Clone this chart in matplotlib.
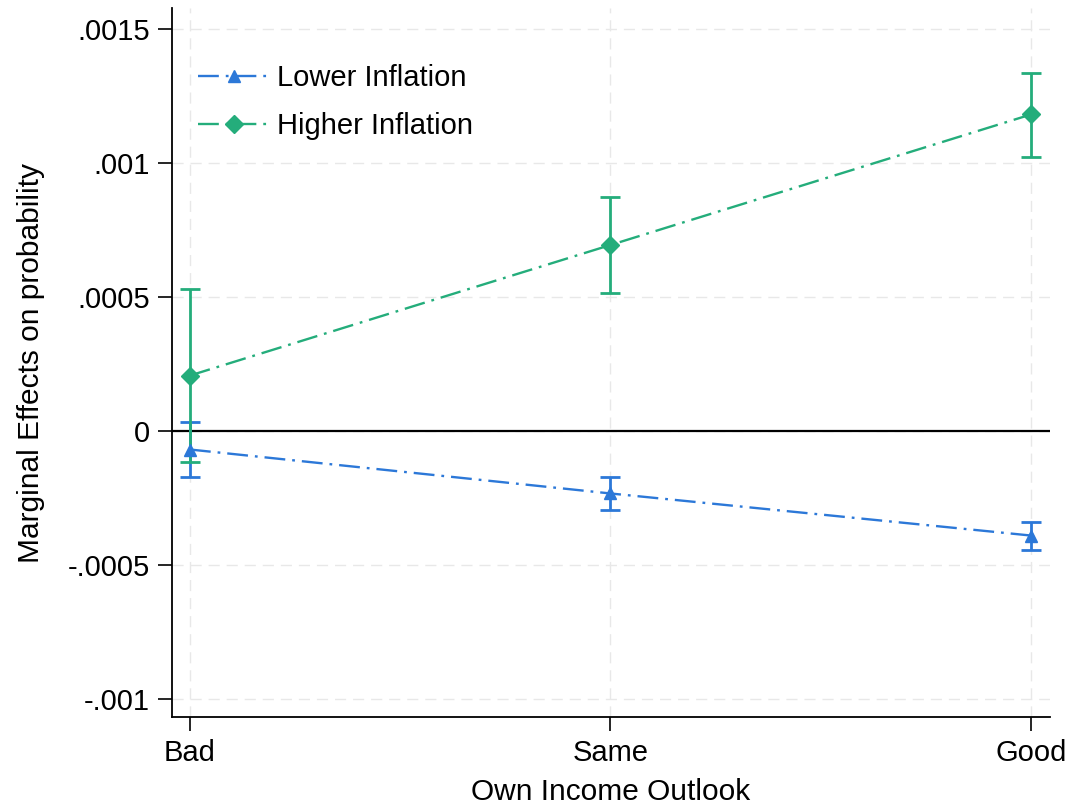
import matplotlib
matplotlib.use("Agg")
import matplotlib.pyplot as plt
from matplotlib.ticker import FixedLocator

plt.rcParams['font.family'] = ['Liberation Sans', 'DejaVu Sans']
plt.rcParams['lines.scale_dashes'] = False

# Categories and estimated marginal effects with 95% confidence bounds
categories = ["Bad", "Same", "Good"]

lower_est = [-0.000069, -0.000233, -0.000390]
lower_lo = [-0.000173, -0.000295, -0.000444]
lower_hi = [0.000035, -0.000171, -0.000338]

higher_est = [0.000207, 0.000694, 0.001181]
higher_lo = [-0.000116, 0.000514, 0.001021]
higher_hi = [0.000530, 0.000872, 0.001335]

yticks = [-0.001, -0.0005, 0, 0.0005, 0.001, 0.0015]
ytick_labels = ["-.001", "-.0005", "0", ".0005", ".001", ".0015"]

blue = "#2c78d8"
green = "#24ad7b"

fig = plt.figure(figsize=(10.72, 8.05), dpi=100)
ax = fig.add_axes([0.1604, 0.1093, 0.8191, 0.8807])

x = list(range(len(categories)))
dash_style = (0, (15, 5, 2, 5))


def draw_series(est, lo, hi, color, marker, msize, label):
    yerr = [[e - l for e, l in zip(est, lo)], [h - e for e, h in zip(est, hi)]]
    ax.errorbar(x, est, yerr=yerr, fmt="none", ecolor=color, elinewidth=2.0,
                capsize=7, capthick=2.0, zorder=3)
    ax.plot(x, est, color=color, linestyle=dash_style, linewidth=1.7,
            marker=marker, markersize=msize, markerfacecolor=color,
            markeredgecolor=color, label=label, zorder=4)


draw_series(lower_est, lower_lo, lower_hi, blue, "^", 9, "Lower Inflation")
draw_series(higher_est, higher_lo, higher_hi, green, "D", 9, "Higher Inflation")

ax.axhline(0, color="black", linewidth=1.6, zorder=2)

ax.set_xlim(-0.0428, 2.0452)
ax.set_ylim(-0.001067, 0.001578)

ax.xaxis.set_major_locator(FixedLocator(x))
ax.set_xticklabels(categories)
ax.yaxis.set_major_locator(FixedLocator(yticks))
ax.set_yticklabels(ytick_labels)

ax.grid(True, color="#e8e8e8", linestyle=(0, (8, 5)), linewidth=1.0, zorder=0)
ax.set_axisbelow(True)

for side in ["top", "right"]:
    ax.spines[side].set_visible(False)
for side in ["left", "bottom"]:
    ax.spines[side].set_linewidth(1.3)
    ax.spines[side].set_color("black")

ax.tick_params(axis="both", direction="out", length=10, width=1.2,
               labelsize=21, colors="black", pad=6)

ax.set_xlabel("Own Income Outlook", fontsize=21.5, labelpad=8)
ax.set_ylabel("Marginal Effects on probability", fontsize=21.5, labelpad=16)

leg = ax.legend(loc="upper left", bbox_to_anchor=(0.0, 0.958), frameon=False,
                fontsize=21, handlelength=2.45, handletextpad=0.25,
                labelspacing=0.7, borderaxespad=0.5)

fig.savefig("out.png", dpi=100, facecolor="white")
